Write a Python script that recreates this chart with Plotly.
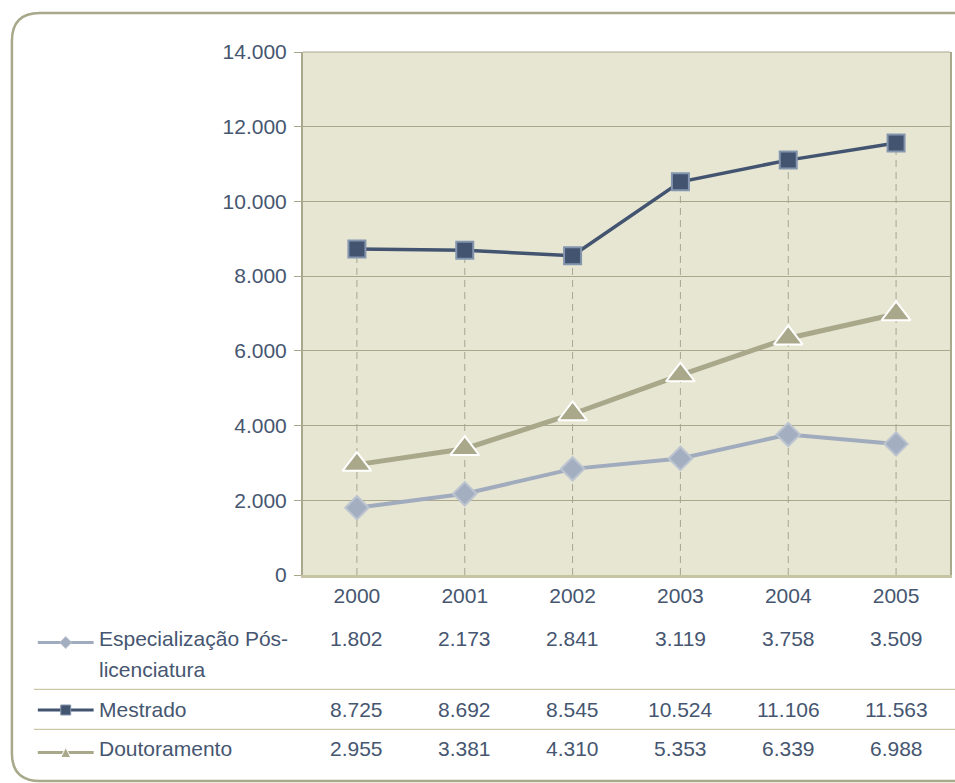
import plotly.graph_objects as go

# ---------------- data ----------------
years = ["2000", "2001", "2002", "2003", "2004", "2005"]
especializacao = [1802, 2173, 2841, 3119, 3758, 3509]
mestrado = [8725, 8692, 8545, 10524, 11106, 11563]
doutoramento = [2955, 3381, 4310, 5353, 6339, 6988]
series_labels = ["Especialização Pós-", "licenciatura", "Mestrado", "Doutoramento"]
y_tickvals = [0, 2000, 4000, 6000, 8000, 10000, 12000, 14000]

# ---------------- styles ----------------
W, H = 955, 783
L, R, T, B = 303, 952, 52, 575
PW, PH = R - L, B - T
FONT = "Liberation Sans, Arial, sans-serif"
FS = 21
TXT = "#465670"
BG = "#E7E6D2"
GRID = "#A9A88C"
C_ESP = "#A0ABBD"
C_ESP_M = "#A3AFC0"
C_ESP_O = "#BCC4D0"
C_MES = "#435470"
C_MES_O = "#8495AE"
C_DOU = "#A9A88B"
BORDER = "#A8A88A"
SEP = "#CBCAA8"
DROP = "#A6A692"


def px(x):
    return (x - L) / PW


def py(y):
    return (B - y) / PH


def fmt(v):
    return f"{v:,}".replace(",", ".")


fig = go.Figure()

# drop lines from the highest series down to the axis
tops = [max(a, b, c) for a, b, c in zip(especializacao, mestrado, doutoramento)]
dx, dy = [], []
for yr, tp in zip(years, tops):
    dx += [yr, yr, None]
    dy += [0, tp, None]
fig.add_trace(go.Scatter(x=dx, y=dy, mode="lines", hoverinfo="skip",
                         line=dict(color=DROP, width=1, dash="7px,5px"),
                         showlegend=False))

fig.add_trace(go.Scatter(x=years, y=especializacao, mode="lines+markers",
                         name="Especialização Pós-licenciatura",
                         line=dict(color=C_ESP, width=4),
                         marker=dict(symbol="diamond", size=18, color=C_ESP_M,
                                     line=dict(color=C_ESP_O, width=2))))
fig.add_trace(go.Scatter(x=years, y=doutoramento, mode="lines+markers",
                         name="Doutoramento",
                         line=dict(color=C_DOU, width=5),
                         marker=dict(symbol="triangle-up", size=25, color=C_DOU,
                                     line=dict(color="white", width=2))))
fig.add_trace(go.Scatter(x=years, y=mestrado, mode="lines+markers",
                         name="Mestrado",
                         line=dict(color=C_MES, width=3.5),
                         marker=dict(symbol="square", size=17, color=C_MES,
                                     line=dict(color=C_MES_O, width=2))))

shapes = []
annotations = []

# outer rounded frame
r = 28
x0, x1, yt, yb = 11, 985, 13, 781
path = (f"M {px(x0)},{py(yt + r)} L {px(x0)},{py(yb - r)} "
        f"Q {px(x0)},{py(yb)} {px(x0 + r)},{py(yb)} "
        f"L {px(x1)},{py(yb)} L {px(x1)},{py(yt)} L {px(x0 + r)},{py(yt)} "
        f"Q {px(x0)},{py(yt)} {px(x0)},{py(yt + r)} Z")
shapes.append(dict(type="path", xref="paper", yref="paper", path=path,
                   line=dict(color=BORDER, width=2.5), layer="below"))

# top border of plot area
shapes.append(dict(type="line", xref="paper", yref="paper", x0=0, x1=1, y0=1, y1=1,
                   line=dict(color=GRID, width=1)))

# table separators
for ysep in [689.3, 729.3]:
    shapes.append(dict(type="line", xref="paper", yref="paper",
                       x0=px(33), x1=px(960), y0=py(ysep), y1=py(ysep),
                       line=dict(color=SEP, width=1.2)))

# legend keys
key_rows = [(642.5, C_ESP), (710, C_MES), (752.5, C_DOU)]
for ky, col in key_rows:
    shapes.append(dict(type="line", xref="paper", yref="paper",
                       x0=px(37), x1=px(93), y0=py(ky), y1=py(ky),
                       line=dict(color=col, width=3)))
cx = 65
ky = 642.5
d = 6
shapes.append(dict(type="path", xref="paper", yref="paper",
                   path=f"M {px(cx - d)},{py(ky)} L {px(cx)},{py(ky - d)} L {px(cx + d)},{py(ky)} L {px(cx)},{py(ky + d)} Z",
                   fillcolor=C_ESP_M, line=dict(color=C_ESP_O, width=1)))
ky = 710
s = 5
shapes.append(dict(type="rect", xref="paper", yref="paper",
                   x0=px(cx - s), x1=px(cx + s), y0=py(ky - s), y1=py(ky + s),
                   fillcolor=C_MES, line=dict(color=C_MES_O, width=1)))
ky = 752.5
t = 5
shapes.append(dict(type="path", xref="paper", yref="paper",
                   path=f"M {px(cx - t)},{py(ky + t)} L {px(cx)},{py(ky - t)} L {px(cx + t)},{py(ky + t)} Z",
                   fillcolor=C_DOU, line=dict(color="white", width=1)))

# row labels
label_pos = [(series_labels[0], 638), (series_labels[1], 669),
             (series_labels[2], 709), (series_labels[3], 748)]
for txt, yy in label_pos:
    annotations.append(dict(text=txt, xref="paper", yref="paper", x=px(96), y=py(yy),
                            xanchor="left", yanchor="middle", showarrow=False,
                            font=dict(family=FONT, size=FS, color=TXT)))

# table values (x given as category index)
for vals, yy in [(especializacao, 638), (mestrado, 709), (doutoramento, 748)]:
    for i, v in enumerate(vals):
        annotations.append(dict(text=fmt(v), xref="x", yref="paper", x=i, y=py(yy),
                                xanchor="center", yanchor="middle", showarrow=False,
                                font=dict(family=FONT, size=FS, color=TXT)))

fig.update_layout(
    width=W, height=H,
    margin=dict(l=L, r=W - R, t=T, b=H - B, pad=0),
    paper_bgcolor="white",
    plot_bgcolor=BG,
    separators=",.",
    showlegend=False,
    font=dict(family=FONT, size=FS, color=TXT),
    shapes=shapes,
    annotations=annotations,
    xaxis=dict(type="category", range=[-0.5, 5.5], showgrid=False,
               showline=True, linecolor="#C6C4A2", linewidth=3,
               ticks="", tickfont=dict(family=FONT, size=FS, color=TXT),
               fixedrange=True),
    yaxis=dict(range=[0, 14000], tickvals=y_tickvals, tickformat=",d",
               showgrid=True, gridcolor=GRID, gridwidth=1, zeroline=False,
               showline=True, linecolor=GRID, linewidth=2, mirror=True,
               ticks="outside", ticklen=7, tickcolor=GRID, tickwidth=1,
               ticklabelstandoff=3,
               tickfont=dict(family=FONT, size=FS, color=TXT),
               fixedrange=True),
)

fig.write_html("out.html", config={"displayModeBar": False},
               post_script="document.body.style.margin='0';document.body.style.overflow='hidden';")
